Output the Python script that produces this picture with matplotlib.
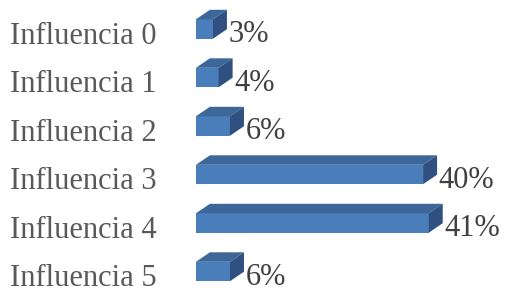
import matplotlib.pyplot as plt
from matplotlib.patches import Polygon

categories = ['Influencia 0', 'Influencia 1', 'Influencia 2',
              'Influencia 3', 'Influencia 4', 'Influencia 5']
values = [3, 4, 6, 40, 41, 6]
value_labels = ['3%', '4%', '6%', '40%', '41%', '6%']

front = '#4a7ebb'
top = '#3d6699'
side = '#2f5080'

fig = plt.figure(figsize=(5.06, 2.93), dpi=100)
ax = fig.add_axes([0, 0, 1, 1])
ax.set_xlim(-34.5, 54.6)
ax.set_ylim(5.443, -0.598)
ax.axis('off')

h = 0.40      # bar thickness
dx = 2.46     # depth offset in x
dy = -0.196   # depth offset in y

for i, v in enumerate(values):
    ax.barh(i, v, height=h, color=front, edgecolor='none')
    y0 = i - h / 2
    y1 = i + h / 2
    ax.add_patch(Polygon([(0, y0), (v, y0), (v + dx, y0 + dy), (dx, y0 + dy)],
                         closed=True, facecolor=top, edgecolor='none'))
    ax.add_patch(Polygon([(v, y0), (v, y1), (v + dx, y1 + dy), (v + dx, y0 + dy)],
                         closed=True, facecolor=side, edgecolor='none'))
    ax.text(v + dx + 0.3, i + 0.27, value_labels[i], va='baseline', ha='left',
            fontsize=22, color='#404040', family='Liberation Serif')
    ax.text(-32.8, i + 0.30, categories[i], va='baseline', ha='left',
            fontsize=22, color='#595959', family='Liberation Serif')

fig.savefig('out.png', dpi=100)
